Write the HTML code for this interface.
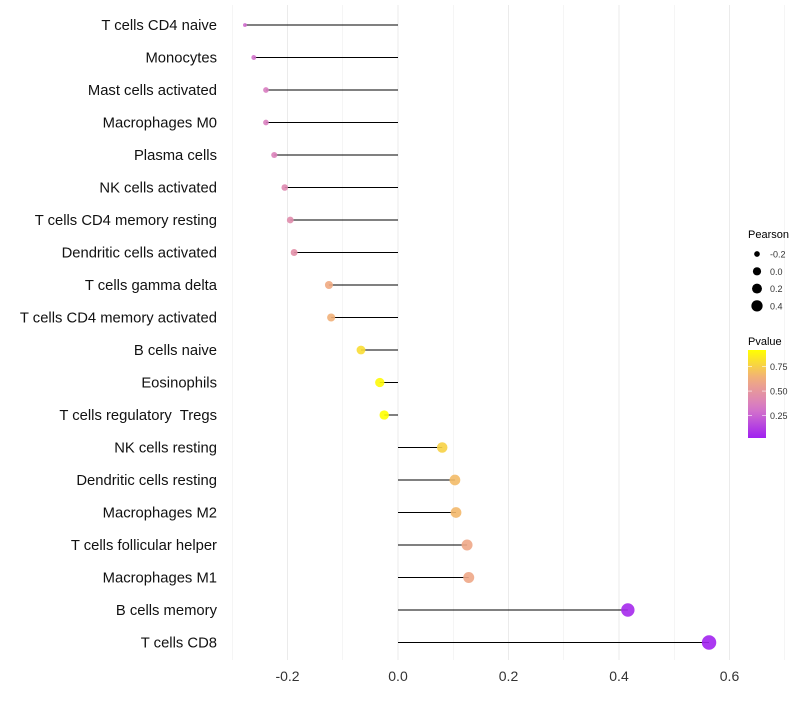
<!DOCTYPE html>
<html><head><meta charset="utf-8"><style>
body{margin:0;background:#fff;font-family:"Liberation Sans",sans-serif}
text{white-space:pre}
</style></head><body>
<svg id="chart" width="800" height="700" xmlns="http://www.w3.org/2000/svg"></svg>
<script>
const categories=["T cells CD4 naive","Monocytes","Mast cells activated","Macrophages M0","Plasma cells","NK cells activated","T cells CD4 memory resting","Dendritic cells activated","T cells gamma delta","T cells CD4 memory activated","B cells naive","Eosinophils","T cells regulatory  Tregs","NK cells resting","Dendritic cells resting","Macrophages M2","T cells follicular helper","Macrophages M1","B cells memory","T cells CD8"];
const pearson=[-0.277,-0.261,-0.239,-0.239,-0.224,-0.205,-0.195,-0.188,-0.125,-0.121,-0.067,-0.033,-0.025,0.080,0.103,0.105,0.125,0.128,0.416,0.563];
const pvalue=[0.28,0.30,0.35,0.36,0.38,0.42,0.44,0.46,0.62,0.64,0.80,0.90,0.92,0.76,0.68,0.67,0.60,0.60,0.05,0.03];
const xTicks=[-0.2,0,0.2,0.4,0.6];
const xTickLabels=["-0.2","0.0","0.2","0.4","0.6"];
const sizeLegend=[-0.2,0,0.2,0.4];
const colorLegend=[0.25,0.5,0.75];

const NS="http://www.w3.org/2000/svg";
const svg=document.getElementById('chart');
function el(t,a){const e=document.createElementNS(NS,t);for(const k in a)e.setAttribute(k,a[k]);svg.appendChild(e);return e;}
const x=v=>398+v*552.5;
const y=i=>25+i*32.5;
const r=v=>1.6+5.6*Math.sqrt(Math.max(0,(v+0.28)/0.84));
function lerp(a,b,t){return a.map((c,i)=>Math.round(c+(b[i]-c)*t));}
function col(p){const t=Math.max(0,Math.min(1,(p-0.02)/0.9));
 const s=[[160,32,240],[214,120,200],[240,170,130],[255,255,0]];
 const f=t*3,i=Math.min(2,Math.floor(f));const c=lerp(s[i],s[i+1],f-i);return `rgb(${c})`;}
for(let k=-3;k<=7;k++){const v=k/10;const g=el('line',{x1:x(v),x2:x(v),y1:5,y2:660,stroke:'#ebebeb','stroke-width':k%2===0?1:0.5});
}
xTicks.forEach((v,i)=>{const t=el('text',{x:x(v),y:681,'text-anchor':'middle','font-size':14,fill:'#333'});t.textContent=xTickLabels[i];
});
categories.forEach((c,i)=>{
 const t=el('text',{x:217,y:y(i)+5,'text-anchor':'end','font-size':14.8,fill:'#111'});t.textContent=c;
 
 const l=el('line',{x1:x(0),x2:x(pearson[i]),y1:y(i),y2:y(i),stroke:'#000','stroke-width':1});
 
 const p=el('circle',{cx:x(pearson[i]),cy:y(i),r:r(pearson[i]),fill:col(pvalue[i]),'fill-opacity':0.9});
 
});
let tt=el('text',{x:748,y:238,'font-size':11,fill:'#000'});tt.textContent='Pearson';

sizeLegend.forEach((v,i)=>{const cy=254+i*17.3;
 const c=el('circle',{cx:757,cy:cy,r:r(v)*0.85,fill:'#000'});
 const t=el('text',{x:770,y:cy+3.5,'font-size':9,fill:'#333'});t.textContent=v.toFixed(1);
 });
tt=el('text',{x:748,y:345,'font-size':11,fill:'#000'});tt.textContent='Pvalue';

const defs=el('defs',{});const lg=document.createElementNS(NS,'linearGradient');lg.setAttribute('id','g');lg.setAttribute('x1',0);lg.setAttribute('x2',0);lg.setAttribute('y1',1);lg.setAttribute('y2',0);defs.appendChild(lg);
for(let k=0;k<=10;k++){const s=document.createElementNS(NS,'stop');s.setAttribute('offset',k/10);s.setAttribute('stop-color',col(0.02+0.9*k/10));lg.appendChild(s);}
const bar=el('rect',{x:748,y:350,width:18,height:88,fill:'url(#g)'});
colorLegend.forEach(v=>{const cy=350+(0.92-v)/0.9*88;
 el('line',{x1:748,x2:752,y1:cy,y2:cy,stroke:'#fff','stroke-width':0.6});el('line',{x1:762,x2:766,y1:cy,y2:cy,stroke:'#fff','stroke-width':0.6});
 const t=el('text',{x:770,y:cy+3.5,'font-size':9,fill:'#333'});t.textContent=v.toFixed(2);
 });
</script>
</body></html>
